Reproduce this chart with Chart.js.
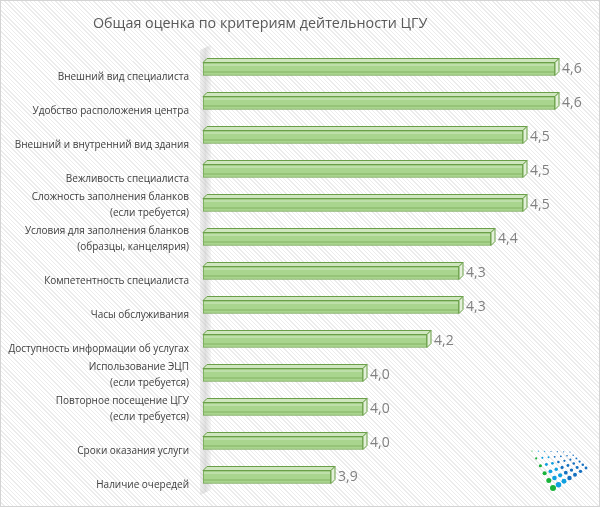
<!DOCTYPE html>
<html>
<head>
<meta charset="utf-8">
<script src="https://cdn.jsdelivr.net/npm/chart.js@4.4.1/dist/chart.umd.min.js"></script>
<style>
  html, body { margin: 0; padding: 0; background: #fff; }
  #wrap {
    position: relative; width: 600px; height: 507px; box-sizing: border-box;
    border: 1px solid #d4d4d4;
    background: repeating-linear-gradient(45deg, #ffffff 0px, #ffffff 2px, #ececec 2px, #ececec 3px);
  }
  #chart { position: absolute; left: 0; top: 0; }
  #title {
    position: absolute; left: 92px; top: 12px;
    font: 14.3px "Open Sans", sans-serif; color: #595959;
  }
</style>
</head>
<body>
<div id="wrap">
  <canvas id="chart" width="598" height="505"></canvas>
  <div id="title">Общая оценка по критериям дейтельности ЦГУ</div>
</div>
<script>
const categories = [
  ['', 'Внешний вид специалиста'],
  ['', 'Удобство расположения центра'],
  ['', 'Внешний и внутренний вид здания'],
  ['', 'Вежливость специалиста'],
  ['Сложность заполнения бланков', '(если требуется)'],
  ['Условия для заполнения бланков', '(образцы, канцелярия)'],
  ['', 'Компетентность специалиста'],
  ['', 'Часы обслуживания'],
  ['', 'Доступность информации об услугах'],
  ['Использование ЭЦП', '(если требуется)'],
  ['Повторное посещение ЦГУ', '(если требуется)'],
  ['', 'Сроки оказания услуги'],
  ['', 'Наличие очередей']
];
const scores = [4.6, 4.6, 4.5, 4.5, 4.5, 4.4, 4.3, 4.3, 4.2, 4.0, 4.0, 4.0, 3.9];
const axisMin = 3.5;
const axisMax = 4.7;

const DEPTH = 4;

// side wall, 3d tops/sides of the bars and the value labels
const bars3d = {
  id: 'bars3d',
  beforeDatasetsDraw(chart) {
    const { ctx, chartArea } = chart;
    const l = chartArea.left;
    const g = ctx.createLinearGradient(l - 3, 0, l + 8, 0);
    g.addColorStop(0, 'rgba(200,200,200,0.25)');
    g.addColorStop(0.5, 'rgba(185,185,185,0.45)');
    g.addColorStop(1, 'rgba(210,210,210,0.2)');
    ctx.save();
    ctx.fillStyle = g;
    ctx.beginPath();
    ctx.moveTo(l - 3, chartArea.top - 2);
    ctx.lineTo(l + 8, chartArea.top - 7);
    ctx.lineTo(l + 8, chartArea.bottom - 4);
    ctx.lineTo(l - 3, chartArea.bottom + 1);
    ctx.closePath();
    ctx.fill();
    ctx.restore();
  },
  afterDatasetsDraw(chart) {
    const { ctx } = chart;
    const meta = chart.getDatasetMeta(0);
    ctx.save();
    meta.data.forEach((bar, i) => {
      const top = bar.y - bar.height / 2;
      const bottom = bar.y + bar.height / 2;
      const x = bar.x, base = bar.base;
      ctx.lineWidth = 1;
      ctx.strokeStyle = '#6a9f48';
      // top face
      ctx.fillStyle = '#cfe6bf';
      ctx.beginPath();
      ctx.moveTo(base, top);
      ctx.lineTo(base + DEPTH, top - DEPTH);
      ctx.lineTo(x + DEPTH, top - DEPTH);
      ctx.lineTo(x, top);
      ctx.closePath();
      ctx.fill();
      ctx.stroke();
      // side face
      ctx.fillStyle = '#e3f0d9';
      ctx.beginPath();
      ctx.moveTo(x, top);
      ctx.lineTo(x + DEPTH, top - DEPTH);
      ctx.lineTo(x + DEPTH, bottom - DEPTH);
      ctx.lineTo(x, bottom);
      ctx.closePath();
      ctx.fill();
      ctx.stroke();
      // inner shading lines of the front face
      ctx.strokeStyle = 'rgba(106,159,72,0.6)';
      ctx.beginPath();
      ctx.moveTo(base + 1, bottom - 3.5);
      ctx.lineTo(x - 1, bottom - 3.5);
      ctx.stroke();
      ctx.strokeStyle = 'rgba(255,255,255,0.5)';
      ctx.beginPath();
      ctx.moveTo(base + 1, top + 2.5);
      ctx.lineTo(x - 1, top + 2.5);
      ctx.stroke();
      // value label
      ctx.fillStyle = '#808080';
      ctx.font = '14px "Open Sans"';
      ctx.textAlign = 'left';
      ctx.textBaseline = 'middle';
      ctx.fillText(scores[i].toFixed(1).replace('.', ','), x + DEPTH + 3, bar.y);
    });
    ctx.restore();
  },
  afterDraw(chart) {
    // dotted logo in the bottom right corner
    const { ctx } = chart;
    const TL = [532, 451], TR = [570, 452], BL = [553, 488], BR = [586, 468];
    const cols = 7, rows = 6;
    ctx.save();
    for (let r = 0; r < rows; r++) {
      for (let c = 0; c < cols; c++) {
        const u = c / (cols - 1), v = r / (rows - 1);
        const px = TL[0] * (1 - u) * (1 - v) + TR[0] * u * (1 - v) + BL[0] * (1 - u) * v + BR[0] * u * v;
        const py = TL[1] * (1 - u) * (1 - v) + TR[1] * u * (1 - v) + BL[1] * (1 - u) * v + BR[1] * u * v;
        const rad = 0.6 + 2.4 * v * (1 - 0.65 * u);
        ctx.fillStyle = c === 0 ? '#18b33a' : (u < 0.5 ? '#10a0e0' : '#1470c0');
        ctx.beginPath();
        ctx.arc(px - 1, py - 1, rad, 0, Math.PI * 2);
        ctx.fill();
      }
    }
    ctx.restore();
  }
};

const ctx = document.getElementById('chart');

new Chart(ctx, {
  type: 'bar',
  data: {
    labels: categories,
    datasets: [{
      data: scores,
      base: axisMin,
      backgroundColor: '#a9d58e',
      borderColor: '#6a9f48',
      borderWidth: 1,
      borderSkipped: false,
      barThickness: 13
    }]
  },
  options: {
    indexAxis: 'y',
    responsive: false,
    animation: false,
    layout: { padding: { top: 51, right: 12, bottom: 12, left: 0 } },
    scales: {
      x: {
        display: false,
        min: axisMin,
        max: axisMax
      },
      y: {
        grid: { display: false },
        border: { display: false },
        afterFit(scale) {
          scale.width = 202;
          scale.paddingTop = 0;
          scale.paddingBottom = 0;
        },
        ticks: {
          padding: 6,
          color: '#404040',
          font: { family: '"Open Sans"', size: 10, lineHeight: 1.55 }
        }
      }
    },
    plugins: {
      legend: { display: false },
      tooltip: { enabled: false },
      title: { display: false }
    }
  },
  plugins: [bars3d]
});
</script>
</body>
</html>
